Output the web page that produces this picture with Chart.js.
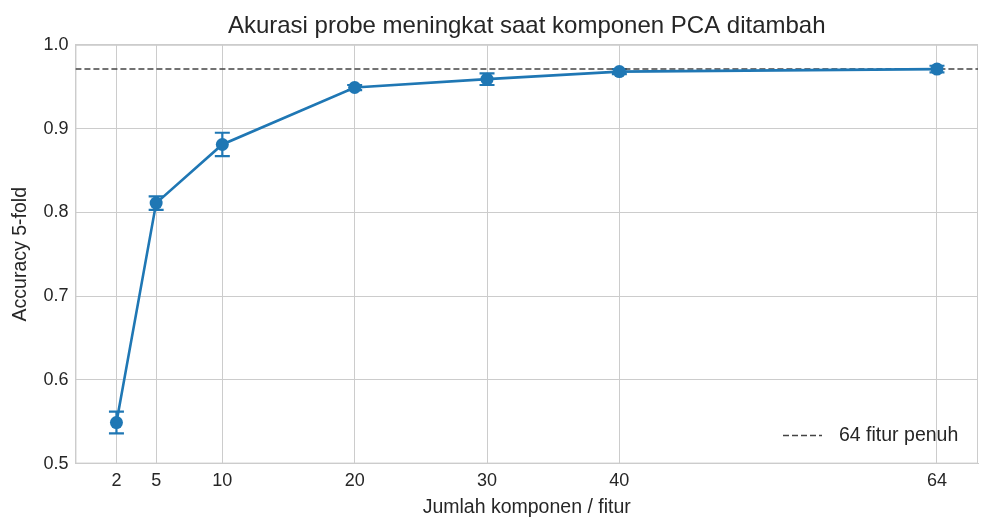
<!DOCTYPE html>
<html>
<head>
<meta charset="utf-8">
<script src="https://cdn.jsdelivr.net/npm/chart.js@4"></script>
<style>
  html, body { margin: 0; padding: 0; background: #fff; }
  #wrap { width: 992px; height: 531px; }
</style>
</head>
<body>
<div id="wrap"><canvas id="chart" width="992" height="531"></canvas></div>
<script>
// data
const components = [2, 5, 10, 20, 30, 40, 64];
const accuracy = [0.549, 0.811, 0.881, 0.949, 0.959, 0.968, 0.971];
const accuracyStd = [0.013, 0.008, 0.014, 0.003, 0.007, 0.003, 0.004];
const xTicks = [2, 5, 10, 20, 30, 40, 64];
const fullFeatureAcc = 0.971;
const xMin = -1.1, xMax = 67.1;

const blue = '#1f77b4';
const textColor = '#262626';
const gridColor = '#cccccc';
const fontFamily = '"Liberation Sans", Arial, Helvetica, sans-serif';

// error bars + frame + legend drawn with the chart's own scales
const extras = {
  id: 'extras',
  beforeDatasetsDraw(chart) {
    const { ctx, scales: { x, y }, chartArea: a } = chart;
    ctx.save();
    ctx.strokeStyle = gridColor;
    ctx.lineWidth = 1;
    ctx.strokeRect(a.left + 0.5, a.top + 0.5, a.right - a.left - 1, a.bottom - a.top - 1);
    ctx.strokeStyle = blue;
    ctx.lineWidth = 2.2;
    components.forEach((c, i) => {
      const px = x.getPixelForValue(c);
      const top = y.getPixelForValue(accuracy[i] + accuracyStd[i]);
      const bot = y.getPixelForValue(accuracy[i] - accuracyStd[i]);
      ctx.beginPath();
      ctx.moveTo(px, top); ctx.lineTo(px, bot);
      ctx.moveTo(px - 7.5, top); ctx.lineTo(px + 7.5, top);
      ctx.moveTo(px - 7.5, bot); ctx.lineTo(px + 7.5, bot);
      ctx.stroke();
    });
    ctx.restore();
  },
  afterDraw(chart) {
    const { ctx, chartArea: a } = chart;
    const ly = a.bottom - 28;
    ctx.save();
    ctx.strokeStyle = '#444444';
    ctx.lineWidth = 1.5;
    ctx.setLineDash([6, 3]);
    ctx.beginPath();
    ctx.moveTo(a.right - 195, ly); ctx.lineTo(a.right - 156, ly);
    ctx.stroke();
    ctx.setLineDash([]);
    ctx.fillStyle = textColor;
    ctx.font = '19.5px ' + fontFamily;
    ctx.textBaseline = 'middle';
    ctx.fillText('64 fitur penuh', a.right - 139, ly);
    ctx.restore();
  }
};

new Chart(document.getElementById('chart'), {
  type: 'line',
  data: {
    datasets: [
      {
        label: 'Accuracy',
        data: components.map((c, i) => ({ x: c, y: accuracy[i] })),
        borderColor: blue,
        backgroundColor: blue,
        borderWidth: 2.6,
        pointRadius: 6.5,
        pointBackgroundColor: blue,
        pointBorderColor: blue,
        pointBorderWidth: 0,
        tension: 0,
        order: 1
      },
      {
        label: '64 fitur penuh',
        data: [{ x: xMin, y: fullFeatureAcc }, { x: xMax, y: fullFeatureAcc }],
        borderColor: '#444444',
        borderWidth: 1.5,
        borderDash: [6, 3],
        pointRadius: 0,
        order: 2
      }
    ]
  },
  options: {
    responsive: false,
    animation: false,
    layout: { padding: { left: 9, right: 14, top: 0, bottom: 12 } },
    plugins: {
      legend: { display: false },
      tooltip: { enabled: false },
      title: {
        display: true,
        fullSize: false,
        text: 'Akurasi probe meningkat saat komponen PCA ditambah',
        color: textColor,
        font: { family: fontFamily, size: 24, weight: 'normal' },
        padding: { top: 12, bottom: 4 }
      }
    },
    scales: {
      x: {
        type: 'linear',
        min: xMin,
        max: xMax,
        afterBuildTicks: (scale) => { scale.ticks = xTicks.map(v => ({ value: v })); },
        ticks: {
          color: textColor,
          font: { family: fontFamily, size: 18, lineHeight: 1 },
          padding: 8,
          maxRotation: 0,
          autoSkip: false,
          callback: (v) => String(v)
        },
        grid: { color: gridColor, lineWidth: 1, drawTicks: false },
        border: { color: gridColor },
        title: {
          display: true,
          text: 'Jumlah komponen / fitur',
          color: textColor,
          font: { family: fontFamily, size: 19.5 },
          padding: { top: -2, bottom: 0 }
        }
      },
      y: {
        min: 0.5,
        max: 1.0,
        ticks: {
          stepSize: 0.1,
          color: textColor,
          font: { family: fontFamily, size: 18 },
          padding: 7,
          callback: (v) => v.toFixed(1)
        },
        grid: { color: gridColor, lineWidth: 1, drawTicks: false },
        border: { color: gridColor },
        title: {
          display: true,
          text: 'Accuracy 5-fold',
          color: textColor,
          font: { family: fontFamily, size: 19.5 },
          padding: { top: 0, bottom: 4 }
        }
      }
    }
  },
  plugins: [extras]
});
</script>
</body>
</html>
